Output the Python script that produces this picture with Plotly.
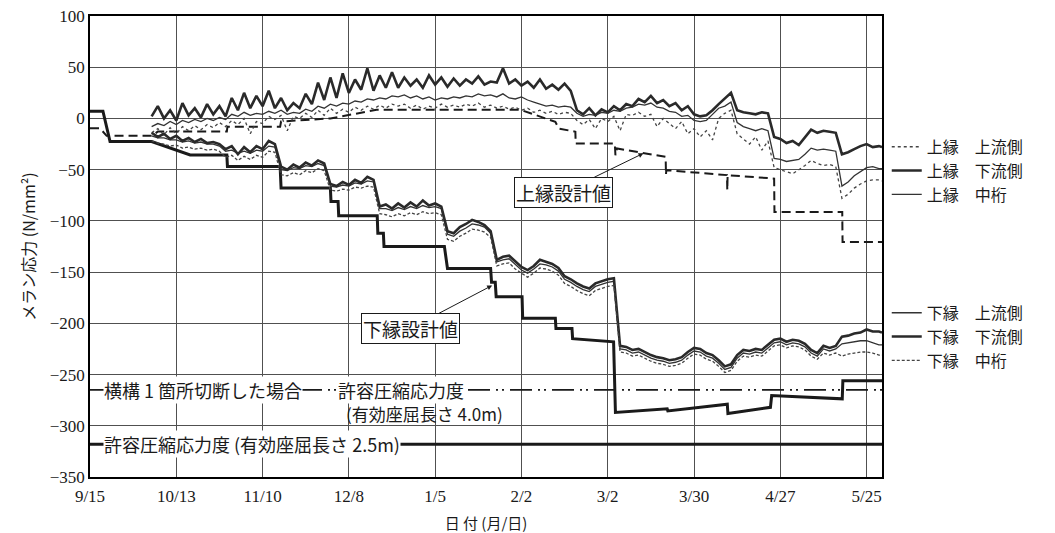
import plotly.graph_objects as go
import pandas as pd

# ---------------- data ----------------
BASE_DATE = "2000-09-15"
tick_dates = ["2000-09-15", "2000-10-13", "2000-11-10", "2000-12-08", "2001-01-05",
              "2001-02-02", "2001-03-02", "2001-03-30", "2001-04-27", "2001-05-25"]
tick_labels = ["9/15", "10/13", "11/10", "12/8", "1/5", "2/2", "3/2", "3/30", "4/27", "5/25"]
x_end_day = 257

# measured series: days after 9/15
meas_days = [20, 22, 24, 26, 28, 30, 32, 34, 36, 38,
             40, 42, 44, 46, 48, 50, 52, 54, 56, 58,
             60, 62, 64, 66, 68, 70, 72, 74, 76, 78,
             80, 82, 84, 86, 88, 90, 92, 94, 96, 98,
             100, 102, 104, 106, 108, 110, 112, 114, 116, 118,
             120, 122, 124, 126, 128, 130, 132, 134, 136, 138,
             140, 142, 144, 146, 148, 150, 152, 154, 156, 158,
             160, 162, 164, 166, 168, 170, 172, 174, 176, 178,
             180, 182, 184, 186, 188, 190, 192, 194, 196, 198,
             200, 202, 204, 206, 208, 210, 212, 214, 216, 218,
             220, 222, 224, 226, 228, 230, 232, 234, 236, 238,
             240, 242, 244, 246, 248, 250, 252, 254, 256, 257]

upper_up = [-14, -10, -16, -9, -15, -8, -12, -7, -11, -6,
            -9, -4, -8, -2, -6, 0, -15, -3, -5, 2,
            -1, 3, -12, 2, 0, 5, 1, 8, 3, 10,
            5, 9, 6, 11, 8, 12, 9, 13, 10, 14,
            12, 14, 10, 13, 9, 12, 10, 14, 11, 13,
            11, 14, 12, 15, 11, 13, 10, 12, 9, 11,
            8, 10, 6, 8, 5, 7, 4, 6, 5, -2,
            -6, -1, -10, 0, -3, 2, -12, 4, 3, 6,
            2, 4, -8, 0, -5, -10, -3, -15, -10, -18,
            -12, -21, 0, 5, 8, -15, -20, -25, -18, -31,
            -22, -48, -50, -52, -54, -50, -46, -41, -44, -46,
            -45, -47, -78, -74, -68, -64, -61, -60, -60, -61]

upper_down = [2, 12, 0, 8, -2, 15, 3, 10, 1, 14,
              4, 12, 2, 20, 8, 25, 10, 22, 12, 27,
              10, 20, 8, 15, 10, 24, 14, 35, 18, 40,
              20, 44, 25, 38, 28, 49, 27, 42, 30, 45,
              30, 40, 32, 38, 30, 42, 33, 40, 31, 39,
              32, 38, 34, 41, 33, 36, 35, 49, 34, 38,
              32, 36, 30, 38, 29, 33, 28, 34, 27, 8,
              4, 10, 3, 9, 6, 12, 8, 14, 12, 19,
              16, 22, 15, 18, 12, 15, 8, 12, 4, 2,
              3, 8, 14, 20, 25, 8, 6, 5, 4, 6,
              5, -18, -20, -24, -22, -26, -18, -11, -14, -12,
              -13, -14, -35, -33, -30, -27, -25, -28, -27, -28]

upper_mid = [-8, -5, -7, -3, -6, -2, -4, -1, -3, 0,
             -2, 1, -1, 4, 2, 6, 3, 5, 4, 7,
             5, 8, 4, 6, 5, 9, 7, 12, 10, 14,
             12, 15, 14, 17, 16, 19, 18, 20, 19, 22,
             21, 23, 20, 22, 19, 21, 18, 20, 19, 21,
             20, 22, 21, 24, 22, 23, 21, 24, 20, 19,
             21, 18, 16, 14, 12, 13, 11, 12, 11, 5,
             2, 4, 3, 6, 5, 8, 7, 10, 11, 14,
             13, 15, 11, 10, 7, 6, 2, 3, -2, -3,
             -2, 4, 10, 12, 16, -4, -8, -10, -12, -10,
             -12, -39, -40, -42, -41, -40, -35, -29, -31, -30,
             -31, -32, -66, -62, -56, -52, -48, -47, -49, -49]

lower_up = [-17, -19, -19, -21, -21, -23, -22, -24, -23, -25,
            -25, -27, -32, -31, -34, -32, -34, -31, -32, -27,
            -28, -50, -51, -48, -49, -46, -47, -44, -46, -66,
            -67, -65, -66, -63, -64, -61, -62, -88, -88, -90,
            -87, -89, -86, -88, -85, -87, -86, -88, -113, -115,
            -110, -107, -103, -104, -106, -112, -140, -138, -137, -143,
            -148, -151, -147, -142, -143, -145, -149, -157, -160, -164,
            -167, -169, -164, -162, -160, -159, -225, -226, -229, -228,
            -231, -234, -236, -237, -239, -238, -236, -231, -227, -228,
            -232, -234, -239, -245, -243, -234, -229, -230, -228, -229,
            -224, -219, -218, -221, -219, -220, -223, -229, -232, -225,
            -227, -225, -220, -219, -218, -217, -217, -219, -221, -221]

lower_down = [-14, -18, -15, -20, -17, -22, -19, -23, -20, -24,
              -23, -25, -30, -27, -35, -28, -33, -27, -30, -22,
              -25, -47, -50, -45, -48, -43, -46, -41, -44, -64,
              -66, -62, -65, -60, -63, -57, -60, -86, -84, -88,
              -83, -87, -82, -86, -80, -85, -83, -86, -110, -112,
              -106, -103, -99, -101, -104, -110, -138, -135, -134, -140,
              -145, -148, -144, -138, -140, -142, -146, -154, -157, -161,
              -164, -166, -161, -159, -157, -156, -222, -223, -226, -225,
              -228, -231, -233, -234, -236, -235, -233, -228, -224, -225,
              -229, -231, -236, -242, -240, -231, -226, -227, -225, -226,
              -221, -216, -215, -218, -216, -217, -220, -226, -229, -222,
              -224, -222, -213, -212, -210, -209, -206, -208, -208, -209]

lower_mid = [-22, -24, -25, -27, -26, -29, -28, -30, -29, -31,
             -30, -32, -38, -36, -41, -37, -40, -36, -38, -32,
             -33, -55, -56, -53, -55, -51, -53, -49, -51, -70,
             -71, -69, -70, -67, -68, -66, -67, -93, -94, -96,
             -93, -95, -92, -94, -91, -93, -92, -94, -118, -120,
             -115, -112, -108, -109, -111, -116, -144, -142, -141, -147,
             -151, -155, -151, -146, -147, -149, -153, -161, -164, -168,
             -171, -173, -168, -166, -164, -163, -228, -229, -232, -231,
             -234, -237, -239, -240, -242, -241, -239, -234, -230, -231,
             -235, -237, -242, -248, -246, -237, -232, -233, -231, -232,
             -227, -222, -221, -224, -222, -223, -226, -232, -235, -229,
             -231, -229, -232, -230, -229, -228, -228, -229, -231, -231]

# design values
upper_design_days = [0, 3.2, 5.4, 20, 22, 44.4, 44.6, 61.7, 62, 78, 93, 139.7, 151, 152.1, 157.5,
                     157.6, 170.3, 170.5, 171, 186.8, 186.9, 187, 206.7, 206.8, 206.9, 222, 222.1,
                     244.1, 244.2, 257]
upper_design_vals = [-9.5, -9.5, -17, -17, -12.8, -12.8, -8, -8, -3, 0, 8.4, 8.4, -3.3, -9.8, -13,
                     -24.5, -24.5, -36, -29.3, -37.5, -55, -50.5, -55.3, -70, -55.4, -58.7, -91.3,
                     -91.3, -120.6, -120.6]

lower_design_days = [0, 4.2, 6.5, 20, 32.5, 44.4, 44.6, 61.7, 62.0, 78, 78.2, 80.5, 80.7, 93.2, 93.4,
                     95.2, 95.4, 115, 116, 130, 130.3, 131.5, 131.8, 140.2, 140.4, 151, 151.2, 156.4,
                     156.6, 169.9, 170.5, 187.3, 187.5, 206.8, 207.0, 220.8, 221.2, 244.1, 244.3, 257]
lower_design_vals = [7, 7, -22.6, -22.6, -35.6, -35.6, -47, -47, -68, -68, -81, -81, -95, -95, -112,
                     -112, -125, -125, -146.5, -146.5, -160, -160, -174, -174, -195, -195, -205, -205,
                     -215, -218, -287, -283.5, -285.5, -279, -288, -282, -270.5, -273.7, -256, -256]

allow_cut = -265      # 横構1箇所切断した場合 許容圧縮応力度 (4.0m)
allow_normal = -318   # 許容圧縮応力度 (2.5m)

# ---------------- build ----------------
base = pd.Timestamp(BASE_DATE)


def to_dates(days):
    return [base + pd.Timedelta(days=d) for d in days]


def day(d):
    return base + pd.Timedelta(days=d)


X_meas = to_dates(meas_days)
X_end = [base, base + pd.Timedelta(days=x_end_day)]

JP = "Noto Sans CJK JP"
INK = "#1a1a1a"

fig = go.Figure()

# allowable stress lines
fig.add_trace(go.Scatter(x=X_end, y=[allow_cut, allow_cut], mode="lines",
                         line=dict(color=INK, width=1.6, dash="22px,6px,2px,4px,2px,6px"),
                         showlegend=False, hoverinfo="skip"))
fig.add_trace(go.Scatter(x=X_end, y=[allow_normal, allow_normal], mode="lines",
                         line=dict(color=INK, width=3),
                         showlegend=False, hoverinfo="skip"))

# design lines
fig.add_trace(go.Scatter(x=to_dates(upper_design_days), y=upper_design_vals, mode="lines",
                         line=dict(color=INK, width=2, dash="9px,5px"),
                         showlegend=False, name="上縁設計値"))
fig.add_trace(go.Scatter(x=to_dates(lower_design_days), y=lower_design_vals, mode="lines",
                         line=dict(color=INK, width=3),
                         showlegend=False, name="下縁設計値"))

# measured - upper flange
fig.add_trace(go.Scatter(x=X_meas, y=upper_up, mode="lines", name="上縁　上流側",
                         line=dict(color="#444", width=1.3, dash="dot"), legend="legend"))
fig.add_trace(go.Scatter(x=X_meas, y=upper_down, mode="lines", name="上縁　下流側",
                         line=dict(color="#2a2a2a", width=2.6), legend="legend"))
fig.add_trace(go.Scatter(x=X_meas, y=upper_mid, mode="lines", name="上縁　中桁",
                         line=dict(color="#333", width=1.3), legend="legend"))

# measured - lower flange
fig.add_trace(go.Scatter(x=X_meas, y=lower_up, mode="lines", name="下縁　上流側",
                         line=dict(color="#333", width=1.3), legend="legend2"))
fig.add_trace(go.Scatter(x=X_meas, y=lower_down, mode="lines", name="下縁　下流側",
                         line=dict(color="#2a2a2a", width=2.6), legend="legend2"))
fig.add_trace(go.Scatter(x=X_meas, y=lower_mid, mode="lines", name="下縁　中桁",
                         line=dict(color="#444", width=1.3, dash="3px,2px"), legend="legend2"))

annos = [
    dict(x=day(4.2), y=allow_cut, text="横構 1 箇所切断した場合", xanchor="left", yanchor="middle",
         showarrow=False, bgcolor="white", borderpad=0, font=dict(size=18, family=JP, color=INK)),
    dict(x=day(80.2), y=allow_cut, text="許容圧縮応力度", xanchor="left", yanchor="middle",
         showarrow=False, bgcolor="white", borderpad=0, font=dict(size=18, family=JP, color=INK)),
    dict(x=day(108.6), y=-288, text="(有効座屈長さ 4.0m)", xanchor="center", yanchor="middle",
         showarrow=False, borderpad=0, font=dict(size=17, family=JP, color=INK)),
    dict(x=day(4.2), y=allow_normal, text="許容圧縮応力度 (有効座屈長さ 2.5m)", xanchor="left",
         yanchor="middle", showarrow=False, bgcolor="white", borderpad=0,
         font=dict(size=18, family=JP, color=INK)),
    dict(x=day(179.6), y=-34, ax=-80, ay=39, text="上縁設計値", showarrow=True, arrowhead=2,
         arrowsize=1, arrowwidth=1, arrowcolor=INK, bgcolor="white", bordercolor=INK, borderwidth=1,
         borderpad=1, font=dict(size=19, family=JP, color=INK)),
    dict(x=day(130.5), y=-163, ax=-82, ay=43, text="下縁設計値", showarrow=True, arrowhead=2,
         arrowsize=1, arrowwidth=1, arrowcolor=INK, bgcolor="white", bordercolor=INK, borderwidth=1,
         borderpad=1, font=dict(size=19, family=JP, color=INK)),
]

fig.update_layout(
    width=1055, height=533,
    margin=dict(l=90, r=173, t=16, b=56),
    paper_bgcolor="white", plot_bgcolor="white",
    font=dict(family="Liberation Serif, " + JP, color=INK),
    annotations=annos,
    legend=dict(x=1.006, y=0.753, xanchor="left", yanchor="top", bgcolor="rgba(0,0,0,0)",
                font=dict(size=16, family=JP, color=INK), tracegroupgap=0),
    legend2=dict(x=1.006, y=0.393, xanchor="left", yanchor="top", bgcolor="rgba(0,0,0,0)",
                 font=dict(size=16, family=JP, color=INK), tracegroupgap=0),
)

fig.update_xaxes(
    type="date", range=[X_end[0], X_end[1]],
    tickvals=to_dates([(pd.Timestamp(t) - base).days for t in tick_dates]), ticktext=tick_labels,
    tickfont=dict(size=17, family="Liberation Serif", color=INK),
    showgrid=True, gridcolor="#505050", gridwidth=1,
    showline=True, linecolor="black", linewidth=1.5, mirror=True,
    ticks="", zeroline=False, ticklabelstandoff=3, automargin=False, ticklabeloverflow="allow",
    title=dict(text="日 付 (月/日)", font=dict(size=15, family=JP, color=INK), standoff=14),
)
fig.update_yaxes(
    range=[-350, 100], tickvals=[100, 50, 0, -50, -100, -150, -200, -250, -300, -350],
    tickfont=dict(size=17, family="Liberation Serif", color=INK),
    showgrid=True, gridcolor="#505050", gridwidth=1,
    showline=True, linecolor="black", linewidth=1.5, mirror=True,
    ticks="", zeroline=False, automargin=False, ticklabeloverflow="allow",
    title=dict(text="メラン応力 (N/mm²)", font=dict(size=16, family=JP, color=INK), standoff=10),
)

# remove the browser's default 8px body margin so the figure fills the window exactly
fig.write_html("out.html", config={"displayModeBar": False},
               post_script="document.body.style.margin='0px';")
